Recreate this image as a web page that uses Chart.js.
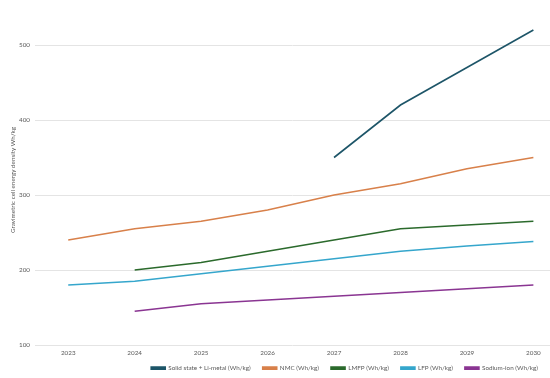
<!DOCTYPE html>
<html>
<head>
<meta charset="utf-8">
<script src="https://cdn.jsdelivr.net/npm/chart.js@4.4.0/dist/chart.umd.min.js"></script>
<style>
  html, body { margin: 0; padding: 0; background: #fff; }
  #wrap { width: 550px; height: 378px; position: relative; }
</style>
</head>
<body>
<div id="wrap"><canvas id="c"></canvas></div>
<script>
const years = [2023, 2024, 2025, 2026, 2027, 2028, 2029, 2030];
const solidState = [null, null, null, null, 350, 420, 470, 520];
const nmc = [240, 255, 265, 280, 300, 315, 335, 350];
const lmfp = [null, 200, 210, 225, 240, 255, 260, 265];
const lfp = [180, 185, 195, 205, 215, 225, 232, 238];
const sodiumIon = [null, 145, 155, 160, 165, 170, 175, 180];
const yTicks = [100, 200, 300, 400, 500];

const toPoints = arr => years.map((y, i) => ({ x: y, y: arr[i] })).filter(p => p.y !== null);

const series = [
    { label: 'Solid state + Li-metal (Wh/kg)', data: solidState, color: '#1d5568' },
    { label: 'NMC (Wh/kg)', data: nmc, color: '#d8804a' },
    { label: 'LMFP (Wh/kg)', data: lmfp, color: '#2b6a2c' },
    { label: 'LFP (Wh/kg)', data: lfp, color: '#35a6cc' },
    { label: 'Sodium-ion (Wh/kg)', data: sodiumIon, color: '#8a3592' }
];

const font = { family: 'Lato', size: 6.3 };

// legend keeps 12px gaps between items but sits a bit higher than Chart.js puts it
const legendFit = {
    id: 'legendFit',
    beforeInit(chart) {
        const legend = chart.legend;
        const origFit = legend.fit;
        legend.fit = function () {
            origFit.call(this);
            this.height = 20;
        };
        const origDraw = legend.draw;
        legend.draw = function (area) {
            const ctx = this.ctx;
            ctx.save();
            ctx.translate(0, -5);
            origDraw.call(this, area);
            ctx.restore();
        };
    }
};

new Chart(document.getElementById('c'), {
    type: 'line',
    data: {
        datasets: series.map(s => ({
            label: s.label,
            data: toPoints(s.data),
            borderColor: s.color,
            backgroundColor: s.color,
            borderWidth: 1.6,
            pointRadius: 0,
            tension: 0
        }))
    },
    plugins: [legendFit],
    options: {
        responsive: true,
        maintainAspectRatio: false,
        animation: false,
        layout: { padding: { left: 0, right: 0, top: 15, bottom: 0 } },
        plugins: {
            tooltip: { enabled: false },
            legend: {
                position: 'bottom',
                align: 'end',
                labels: {
                    font,
                    color: '#595959',
                    boxWidth: 14,
                    boxHeight: 2,
                    padding: 12
                }
            }
        },
        scales: {
            x: {
                type: 'linear',
                min: 2022.5,
                max: 2030.25,
                afterBuildTicks: axis => { axis.ticks = years.map(v => ({ value: v })); },
                afterFit: axis => { axis.height = 13; },
                grid: { display: false, drawTicks: false },
                border: { display: false },
                ticks: { font, color: '#595959', callback: v => String(v), padding: 4, maxRotation: 0 }
            },
            y: {
                min: 100,
                max: 540,
                afterBuildTicks: axis => { axis.ticks = yTicks.map(v => ({ value: v })); },
                afterFit: axis => { axis.width = 35; },
                grid: { color: '#e4e4e4', lineWidth: 1, drawTicks: false },
                border: { display: false },
                ticks: { font, color: '#595959', padding: 5 },
                title: {
                    display: true,
                    text: 'Gravimetric cell energy density Wh/kg',
                    font,
                    color: '#595959',
                    padding: { top: 9, bottom: 0 }
                }
            }
        }
    }
});
</script>
</body>
</html>
